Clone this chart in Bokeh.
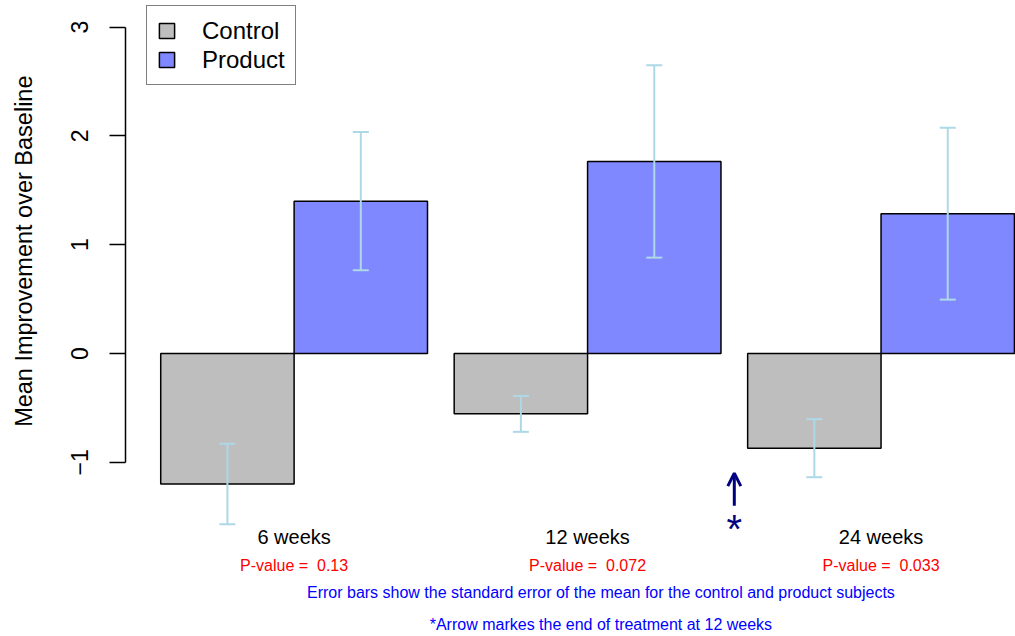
from bokeh.plotting import figure
from bokeh.models import (ColumnDataSource, Whisker, TeeHead, Arrow, OpenHead, Legend,
                          LegendItem, FixedTicker, Range1d, Title)
from bokeh.core.properties import value
from bokeh.embed import file_html
from bokeh.resources import INLINE

# ---- data ----
weeks = ["6 weeks", "12 weeks", "24 weeks"]
control_mean = [-1.20, -0.555, -0.87]
control_se = [0.37, 0.165, 0.267]
product_mean = [1.40, 1.765, 1.285]
product_se = [0.635, 0.884, 0.79]
p_values = ["0.13", "0.072", "0.033"]
y_ticks = [-1, 0, 1, 2, 3]
series_names = ["Control", "Product"]
series_colors = ["#BEBEBE", "#8088FF"]
footnotes = ["Error bars show the standard error of the mean for the control and product subjects",
             "*Arrow markes the end of treatment at 12 weeks"]
arrow_y = [-1.40, -1.10]   # tail, tip

FONT = "Liberation Sans"
ERR_COL = "#ADD8E6"
bar_w = 1.0
group_gap = 0.2
group_start = [i * (2 * bar_w + group_gap) for i in range(len(weeks))]
ctrl_x = [s + 0.5 * bar_w for s in group_start]
prod_x = [s + 1.5 * bar_w for s in group_start]
group_center = [s + bar_w for s in group_start]
arrow_x = (group_start[1] + 2 * bar_w + group_start[2]) / 2

p = figure(width=1015, height=636, output_backend="svg", toolbar_location=None,
           x_range=Range1d(-0.264, 6.408), y_range=Range1d(-2.601, 3.244),
           x_axis_location=None, min_border_left=123, min_border_right=0,
           min_border_top=0, min_border_bottom=0)
p.outline_line_color = None
p.grid.visible = False
p.background_fill_color = "white"
p.border_fill_color = "white"

ctrl_src = ColumnDataSource(dict(x=ctrl_x, top=control_mean,
                                 lower=[m - s for m, s in zip(control_mean, control_se)],
                                 upper=[m + s for m, s in zip(control_mean, control_se)]))
prod_src = ColumnDataSource(dict(x=prod_x, top=product_mean,
                                 lower=[m - s for m, s in zip(product_mean, product_se)],
                                 upper=[m + s for m, s in zip(product_mean, product_se)]))

r_ctrl = p.vbar(x="x", top="top", bottom=0, width=bar_w, source=ctrl_src,
                fill_color=series_colors[0], line_color="black", line_width=1.5)
r_prod = p.vbar(x="x", top="top", bottom=0, width=bar_w, source=prod_src,
                fill_color=series_colors[1], line_color="black", line_width=1.5)

for src in (ctrl_src, prod_src):
    p.add_layout(Whisker(base="x", lower="lower", upper="upper", source=src, level="overlay",
                         line_color=ERR_COL, line_width=2,
                         lower_head=TeeHead(size=16, line_color=ERR_COL, line_width=2),
                         upper_head=TeeHead(size=16, line_color=ERR_COL, line_width=2)))

# group labels, p-values, footnotes
label_y, pval_y, foot_y = -1.691, -1.949, [-2.197, -2.494]
p.text(x=group_center, y=[label_y] * len(weeks), text=weeks, text_align="center",
       text_baseline="middle", text_font=value(FONT), text_font_size="20px",
       text_color="black")
p.text(x=group_center, y=[pval_y] * len(weeks),
       text=["P-value = \u00a0" + v for v in p_values],
       text_align="center", text_baseline="middle", text_font=value(FONT),
       text_font_size="16px", text_color="red")
p.text(x=[3.3] * 2, y=foot_y, text=footnotes, text_align="center",
       text_baseline="middle", text_font=value(FONT), text_font_size="16px",
       text_color="blue")

# arrow marking end of treatment
p.add_layout(Arrow(end=OpenHead(size=13, line_color="navy", line_width=3),
                   x_start=arrow_x, y_start=arrow_y[0], x_end=arrow_x, y_end=arrow_y[1],
                   line_color="navy", line_width=3))
p.text(x=[arrow_x], y=[-1.616], text=["*"], text_align="center", text_baseline="middle",
       text_font=value(FONT), text_font_size="40px", text_color="navy")

# y axis
ax = p.yaxis[0]
ax.ticker = FixedTicker(ticks=y_ticks)
ax.bounds = (min(y_ticks), max(y_ticks))
ax.major_label_overrides = {-1: "\u22121"}
ax.major_label_orientation = "vertical"
ax.major_label_text_font = FONT
ax.major_label_text_font_size = "23px"
ax.major_label_text_color = "black"
ax.major_label_standoff = 21
ax.axis_line_width = 1.5
ax.axis_line_color = "black"
ax.major_tick_line_width = 1.5
ax.major_tick_line_color = "black"
ax.major_tick_out = 16
ax.major_tick_in = 0
ax.minor_tick_line_color = None
# blank axis label only reserves a gap between the tick labels and the axis title
ax.axis_label = " "
ax.axis_label_text_font_size = "2px"
ax.axis_label_standoff = 18

# y axis title
p.add_layout(Title(text="Mean Improvement over Baseline", align="right", offset=75,
                   standoff=17, text_font=FONT, text_font_size="23.5px",
                   text_font_style="normal", text_color="black"), "left")

legend = Legend(items=[LegendItem(label=series_names[0], renderers=[r_ctrl]),
                       LegendItem(label=series_names[1], renderers=[r_prod])],
                location=(21, 551), padding=10, spacing=0, margin=0,
                glyph_width=19, glyph_height=19, label_height=29, label_standoff=26,
                label_text_font=FONT, label_text_font_size="24px", label_text_color="black",
                border_line_color="black", border_line_width=1.5,
                background_fill_color="white", background_fill_alpha=1.0)
p.add_layout(legend)

open("out.html", "w").write(file_html(p, INLINE))
